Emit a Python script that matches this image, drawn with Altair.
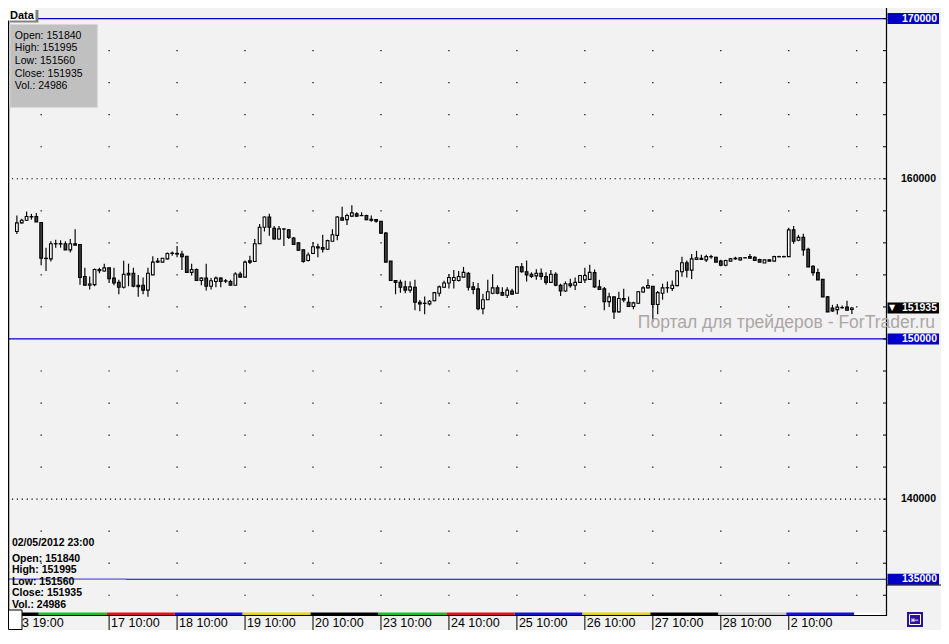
import altair as alt
import pandas as pd

# ---------------- data (RTS futures, H1, 13.04 - 02.05.2012) ----------------
opens = [156710, 157250, 157410, 157640, 157650, 157270, 155040, 155000, 155940, 155950,
         155940, 155560, 155940, 155900, 153900, 153350, 153390, 154340, 154240, 154440,
         153800, 153530, 153230, 154100, 154100, 153350, 153350, 153050, 154000, 154800,
         154800, 155000, 155340, 155340, 155300, 155160, 154160, 154340, 153650, 153800,
         153290, 153590, 153800, 153630, 153590, 153350, 154060, 153860, 154880, 154840,
         155940, 156970, 157610, 156910, 156240, 156870, 156810, 156300, 156000, 155560,
         154900, 155340, 155760, 155700, 155600, 156100, 156470, 157570, 157450, 157670,
         157810, 157710, 157710, 157470, 157450, 157350, 156610, 154860, 153650, 153530,
         153250, 153050, 153230, 152290, 152230, 152190, 152390, 152850, 153230, 153490,
         153650, 153650, 153860, 154100, 153250, 153130, 151890, 152450, 152850, 153190,
         152890, 152730, 152990, 152850, 154500, 154200, 154040, 153940, 154100, 153900,
         153530, 154040, 153350, 152990, 153450, 153350, 153530, 153690, 153720, 154140,
         153250, 153130, 152330, 152630, 151690, 152530, 152290, 152030, 152230, 152930,
         153190, 153290, 152150, 152850, 153190, 153150, 153330, 154200, 154760, 154300,
         154960, 155040, 154940, 155140, 155100, 154860, 154600, 154860, 155000, 154940,
         155060, 155140, 155100, 154960, 154740, 154940, 154860, 155140, 155130, 155140,
         156810, 156160, 156340, 155600, 154540, 154140, 153730, 152630, 151930, 151830,
         151950, 151990, 151840]
highs = [157710, 157510, 157950, 157810, 157870, 157270, 155700, 156100, 156200, 156160,
         156100, 156240, 156850, 155900, 154440, 153900, 154400, 154440, 154700, 154440,
         154440, 153700, 154880, 154700, 154440, 154000, 153840, 154440, 155160, 155060,
         155040, 155400, 155460, 155800, 155500, 155160, 154700, 154400, 153860, 154700,
         153800, 153900, 153860, 153740, 153700, 154160, 154200, 154900, 155200, 156240,
         157170, 157650, 157810, 157050, 157050, 156910, 156850, 156360, 156040, 155600,
         155400, 156040, 155940, 156510, 156200, 156850, 157670, 158250, 157810, 158350,
         157910, 157910, 157750, 157710, 157450, 157350, 156670, 154860, 153650, 153700,
         153630, 153590, 153700, 152430, 152650, 152430, 152930, 153330, 153630, 154040,
         154300, 154240, 154500, 154160, 153550, 153490, 152830, 153700, 154040, 153350,
         153230, 153230, 153130, 154540, 154740, 154900, 154160, 154360, 154400, 154160,
         154300, 154160, 153450, 153590, 153760, 153840, 153960, 154440, 154640, 154340,
         153690, 153250, 152890, 152630, 152950, 153130, 152650, 152330, 152990, 153290,
         153730, 153290, 152990, 153450, 153590, 153650, 154300, 155140, 154900, 155300,
         155500, 155260, 155260, 155260, 155140, 154940, 154940, 155060, 155140, 155100,
         155100, 155300, 155160, 155000, 154940, 154940, 155200, 155200, 155200, 156950,
         157050, 156500, 156570, 155700, 154600, 154400, 153730, 152690, 152130, 152190,
         152090, 152390, 151995]
lows = [156550, 157210, 157370, 157450, 157310, 154600, 154240, 154840, 155700, 155700,
        155560, 155400, 155860, 153390, 153350, 153090, 153290, 154100, 154200, 153490,
        153350, 152790, 153150, 153290, 153230, 152630, 152790, 152630, 154000, 154760,
        154800, 154960, 155200, 155100, 154300, 154160, 153960, 153630, 153350, 153030,
        153090, 153230, 153230, 153490, 153350, 153350, 153860, 153860, 154680, 154800,
        155940, 156710, 156450, 156200, 156200, 155800, 156240, 155900, 155500, 154760,
        154840, 155300, 155100, 155400, 155560, 156100, 156160, 157410, 157110, 157610,
        157610, 157670, 157410, 157310, 157250, 156550, 154800, 153650, 152790, 152890,
        152850, 152890, 151790, 151730, 151550, 152090, 152350, 152650, 153190, 153150,
        153150, 153590, 153860, 153030, 152790, 151790, 151550, 152450, 152790, 152790,
        152690, 152550, 152790, 152850, 154140, 153590, 153800, 153700, 153700, 153390,
        153490, 153290, 152690, 152930, 153190, 153050, 153490, 153490, 153690, 153190,
        153090, 151790, 151990, 151240, 151650, 152290, 151990, 151850, 152190, 152890,
        153150, 151080, 151550, 152450, 152890, 152990, 153290, 153890, 153830, 153750,
        154940, 154940, 154800, 155000, 154800, 154540, 154540, 154860, 154940, 154900,
        155040, 155040, 154860, 154800, 154740, 154860, 154860, 155100, 155100, 155140,
        155940, 156100, 155200, 154500, 153940, 153690, 152630, 151690, 151690, 151530,
        151890, 151790, 151560]
closes = [157250, 157410, 157650, 157620, 157310, 155040, 155020, 155940, 155950, 155930,
          155560, 155940, 155860, 153840, 153350, 153430, 154340, 154260, 154440, 153760,
          153490, 153230, 154040, 154000, 153290, 153270, 153050, 154100, 154800, 154860,
          155040, 155340, 155360, 155300, 155140, 154160, 154340, 153650, 153800, 153290,
          153630, 153800, 153590, 153610, 153350, 154060, 153860, 154800, 154800, 155940,
          156970, 157610, 156970, 156240, 156870, 156860, 156340, 155900, 155540, 154840,
          155240, 155760, 155680, 155600, 156140, 156510, 157610, 157410, 157710, 157870,
          157670, 157700, 157450, 157410, 157350, 156610, 154800, 153650, 153530, 153230,
          153050, 153250, 152290, 152190, 152220, 152350, 152890, 153250, 153490, 153840,
          153840, 153900, 154160, 153230, 153090, 151890, 152450, 152950, 153190, 152850,
          152730, 153050, 152790, 154500, 154200, 154000, 153900, 154100, 153900, 153530,
          154040, 153350, 152990, 153450, 153330, 153530, 153960, 153960, 154160, 153250,
          153090, 152330, 152630, 151690, 152530, 152430, 152030, 152250, 152950, 153190,
          153330, 152150, 152890, 153190, 153200, 153350, 154240, 154760, 154300, 155000,
          155060, 154960, 155140, 155130, 154800, 154600, 154900, 155000, 155040, 155060,
          155070, 155040, 154900, 154800, 154940, 154860, 155140, 155130, 155140, 156810,
          156100, 156340, 155560, 154500, 154140, 153690, 152630, 151690, 151750, 151990,
          151960, 151790, 151935]
bar_no = list(range(1, len(opens) + 1))

# trading days (first/last bar of each day) and weekday colours of the time strip
day_first = [1, 6, 20, 34, 48, 62, 76, 90, 104, 118, 132, 146, 160]
day_last = [5, 19, 33, 47, 61, 75, 89, 103, 117, 131, 145, 159, 173]
day_colors = ["#000000", "#1ec01e", "#d81818", "#1414d0", "#e2d218", "#000000",
              "#1ec01e", "#d81818", "#1414d0", "#e2d218", "#000000", "#c8c8c8", "#1414d0"]

# time axis labels
time_labels = ["13 19:00", "17 10:00", "18 10:00", "19 10:00", "20 10:00", "23 10:00",
               "24 10:00", "25 10:00", "26 10:00", "27 10:00", "28 10:00", "2 10:00"]
time_ticks = [0.2, 20, 34, 48, 62, 76, 90, 104, 118, 132, 146, 160]

# price grid
grid_bars = [6, 20, 34, 48, 62, 76, 90, 104, 118, 132, 146, 160, 174]
grid_prices = [134000, 136000, 138000, 142000, 144000, 146000, 148000, 152000,
               154000, 156000, 158000, 162000, 164000, 166000, 168000]
tick_prices = [134000, 136000, 138000, 140000, 142000, 144000, 146000, 148000, 150000,
               152000, 154000, 156000, 158000, 160000, 162000, 164000, 166000, 168000, 170000]
dotted_levels = [160000, 140000]
plain_labels = [160000, 140000]
blue_levels = [170000, 150000, 135000]
last_price = 151935

info_date = "02/05/2012 23:00"
info_lines = ["Open: 151840", "High: 151995", "Low: 151560", "Close: 151935", "Vol.: 24986"]
watermark = "Портал для трейдеров - ForTrader.ru"

# ---------------- layout ----------------
PW, PH = 878, 605          # plot area
RP, BB = 55, 17            # right price panel, bottom time band
SX, SY = PW / 894, PH / 627
def fx(v): return v * SX
def fy(v): return v * SY

FONT = "Liberation Sans"
BG = "#f2f2f2"
BLUE = "#0000c8"

xs = alt.Scale(domain=[0.2, 179], nice=False, zero=False)
ys = alt.Scale(domain=[132892, 170662], nice=False, zero=False)

df = pd.DataFrame({"n": bar_no, "o": opens, "h": highs, "l": lows, "c": closes})
df["up"] = df["c"] >= df["o"]

one = pd.DataFrame({"a": [0]})

layers = []

# grid dots
gd = pd.DataFrame([(b, p) for b in grid_bars for p in grid_prices], columns=["n", "p"])
layers.append(alt.Chart(gd).mark_square(size=1.5, color="#000", opacity=1).encode(
    x=alt.X("n:Q", scale=xs, axis=None), y=alt.Y("p:Q", scale=ys, axis=None)))

# dotted levels
layers.append(alt.Chart(pd.DataFrame({"p": dotted_levels})).mark_rule(
    color="#000", strokeDash=[1.2, 3.7], strokeWidth=1.1).encode(
    y=alt.Y("p:Q", scale=ys, axis=None), x=alt.value(fx(4)), x2=alt.value(PW)))

# blue horizontal levels
layers.append(alt.Chart(pd.DataFrame({"p": blue_levels})).mark_rule(
    color=BLUE, strokeWidth=1.2).encode(
    y=alt.Y("p:Q", scale=ys, axis=None), x=alt.value(0), x2=alt.value(PW)))
layers.append(alt.Chart(pd.DataFrame({"p": [135000]})).mark_rule(
    color="#8585e4", strokeWidth=1.4).encode(
    y=alt.Y("p:Q", scale=ys, axis=None), x=alt.value(0), x2=alt.value(fx(120))))

# candles: wicks then bodies
layers.append(alt.Chart(df).mark_rule(color="#000", strokeWidth=1.15).encode(
    x=alt.X("n:Q", scale=xs, axis=None),
    y=alt.Y("l:Q", scale=ys, axis=None), y2="h:Q"))
layers.append(alt.Chart(df).mark_bar(size=2.7, stroke="#000", strokeWidth=1.1).encode(
    x=alt.X("n:Q", scale=xs, axis=None),
    y=alt.Y("o:Q", scale=ys, axis=None), y2="c:Q",
    color=alt.Color("up:N", scale=alt.Scale(domain=[True, False], range=["#ffffff", "#404040"]),
                    legend=None)))

# frame lines
layers.append(alt.Chart(one).mark_rule(color="#000", strokeWidth=1.5).encode(
    x=alt.value(0.5), y=alt.value(0), y2=alt.value(PH + 2)))
layers.append(alt.Chart(one).mark_rule(color="#000", strokeWidth=1.2).encode(
    x=alt.value(PW + 0.5), y=alt.value(0), y2=alt.value(PH + 3)))
layers.append(alt.Chart(one).mark_rule(color="#000", strokeWidth=1).encode(
    x=alt.value(0), x2=alt.value(PW), y=alt.value(PH + 2.5)))

# price ticks
layers.append(alt.Chart(pd.DataFrame({"p": tick_prices})).mark_rule(color="#000").encode(
    y=alt.Y("p:Q", scale=ys, axis=None), x=alt.value(PW - 3), x2=alt.value(PW)))

# weekday strip
strip = pd.DataFrame({"s": [max(f - 0.5, 0.2) for f in day_first],
                      "e": [l + 0.5 for l in day_last], "col": day_colors})
layers.append(alt.Chart(strip).mark_rect().encode(
    x=alt.X("s:Q", scale=xs, axis=None), x2="e:Q",
    y=alt.value(PH - 0.5), y2=alt.value(PH + 2),
    color=alt.Color("col:N", scale=None)))
layers.append(alt.Chart(pd.DataFrame({"s": [day_last[-1] + 0.5], "e": [179]})).mark_rect(
    color="#ffffff").encode(
    x=alt.X("s:Q", scale=xs, axis=None), x2="e:Q",
    y=alt.value(PH - 0.5), y2=alt.value(PH + 2)))

# time axis ticks + labels
tdf = pd.DataFrame({"n": time_ticks, "t": time_labels})
layers.append(alt.Chart(tdf).mark_rule(color="#000").encode(
    x=alt.X("n:Q", scale=xs, axis=None), y=alt.value(PH + 3), y2=alt.value(PH + BB)))
layers.append(alt.Chart(tdf).mark_text(
    align="left", baseline="alphabetic", dx=2, font=FONT, fontSize=12.5, color="#000").encode(
    x=alt.X("n:Q", scale=xs, axis=None), y=alt.value(PH + 14), text="t:N"))

# right price panel: plain labels
layers.append(alt.Chart(pd.DataFrame({"p": plain_labels})).mark_text(
    align="right", baseline="middle", font=FONT, fontSize=10.5, fontWeight="bold",
    color="#000").encode(
    y=alt.Y("p:Q", scale=ys, axis=None), x=alt.value(PW + 50),
    text=alt.Text("p:Q", format="d")))
# blue boxed levels
layers.append(alt.Chart(pd.DataFrame({"p": blue_levels})).mark_rule(
    color=BLUE, strokeWidth=11).encode(
    y=alt.Y("p:Q", scale=ys, axis=None), x=alt.value(PW + 1.5), x2=alt.value(PW + 53)))
layers.append(alt.Chart(pd.DataFrame({"p": blue_levels})).mark_text(
    align="right", baseline="middle", font=FONT, fontSize=10.5, fontWeight="bold",
    color="#fff").encode(
    y=alt.Y("p:Q", scale=ys, axis=None), x=alt.value(PW + 51),
    text=alt.Text("p:Q", format="d")))
# last price box
lp = pd.DataFrame({"p": [last_price]})
layers.append(alt.Chart(lp).mark_rule(color="#000", strokeWidth=11).encode(
    y=alt.Y("p:Q", scale=ys, axis=None), x=alt.value(PW + 1.5), x2=alt.value(PW + 53)))
layers.append(alt.Chart(lp).mark_text(
    align="right", baseline="middle", font=FONT, fontSize=10.5, fontWeight="bold",
    color="#fff").encode(
    y=alt.Y("p:Q", scale=ys, axis=None), x=alt.value(PW + 51),
    text=alt.Text("p:Q", format="d")))
layers.append(alt.Chart(lp).mark_text(
    align="left", baseline="middle", font="DejaVu Sans", fontSize=8, color="#fff").encode(
    y=alt.Y("p:Q", scale=ys, axis=None), x=alt.value(PW + 3), text=alt.value("▼")))
# panel separator under 135000
layers.append(alt.Chart(one).mark_rule(color="#000").encode(
    x=alt.value(PW), x2=alt.value(PW + RP), y=alt.value(fy(598))))

# watermark
layers.append(alt.Chart(one).mark_text(
    align="right", baseline="alphabetic", font=FONT, fontSize=17.5, color="#aca6a6").encode(
    x=alt.value(PW + 49), y=alt.value(319.5), text=alt.value(watermark)))

# "Data" tab and data window
layers.append(alt.Chart(one).mark_rect(color="#808080").encode(
    x=alt.value(2), x2=alt.value(fx(31)), y=alt.value(2), y2=alt.value(fy(15))))
layers.append(alt.Chart(one).mark_rect(color="#ffffff").encode(
    x=alt.value(0), x2=alt.value(fx(28)), y=alt.value(0), y2=alt.value(fy(13))))
layers.append(alt.Chart(one).mark_text(
    align="left", baseline="alphabetic", font=FONT, fontSize=11, fontWeight="bold",
    color="#000").encode(x=alt.value(2), y=alt.value(fy(11)), text=alt.value("Data")))
layers.append(alt.Chart(one).mark_rect(color="#c0c0c0", stroke="#d8d8d8", strokeWidth=1).encode(
    x=alt.value(fx(2)), x2=alt.value(fx(91)), y=alt.value(fy(17)), y2=alt.value(fy(103))))
for i, line in enumerate(info_lines):
    layers.append(alt.Chart(one).mark_text(
        align="left", baseline="alphabetic", font=FONT, fontSize=10.5, color="#000").encode(
        x=alt.value(fx(7)), y=alt.value(fy(32 + 13 * i)), text=alt.value(line)))

# bottom-left info block
layers.append(alt.Chart(one).mark_text(
    align="left", baseline="alphabetic", font=FONT, fontSize=10.5, fontWeight="bold",
    color="#000").encode(x=alt.value(fx(4)), y=alt.value(fy(558)), text=alt.value(info_date)))
for i, line in enumerate(info_lines):
    layers.append(alt.Chart(one).mark_text(
        align="left", baseline="alphabetic", font=FONT, fontSize=10.5, fontWeight="bold",
        color="#000").encode(
        x=alt.value(fx(4)), y=alt.value(fy(574 + 11.9 * i)), text=alt.value(line)))

# bottom-left white square and bottom-right button
layers.append(alt.Chart(one).mark_rect(color="#ffffff", stroke="#000", strokeWidth=1).encode(
    x=alt.value(0.5), x2=alt.value(14), y=alt.value(PH - 3), y2=alt.value(PH + BB - 0.5)))
layers.append(alt.Chart(one).mark_rect(color="#2c129e").encode(
    x=alt.value(PW + 21), x2=alt.value(PW + 37), y=alt.value(PH - 1), y2=alt.value(PH + 14)))
layers.append(alt.Chart(one).mark_rect(fill="#2c129e", stroke="#ffffff", strokeWidth=1).encode(
    x=alt.value(PW + 23.5), x2=alt.value(PW + 34.5), y=alt.value(PH + 1.5), y2=alt.value(PH + 11.5)))
layers.append(alt.Chart(one).mark_text(
    align="center", baseline="middle", font="DejaVu Sans", fontSize=9, color="#fff").encode(
    x=alt.value(PW + 29), y=alt.value(PH + 6.7), text=alt.value("⇤")))

chart = alt.layer(*layers).properties(
    width=PW, height=PH,
    autosize=alt.AutoSizeParams(type="none"),
    padding={"left": 0, "top": 0, "right": RP, "bottom": BB},
    background=BG,
).configure_view(stroke=None)

chart.save("out.html", embed_options={"renderer": "svg", "actions": False})
